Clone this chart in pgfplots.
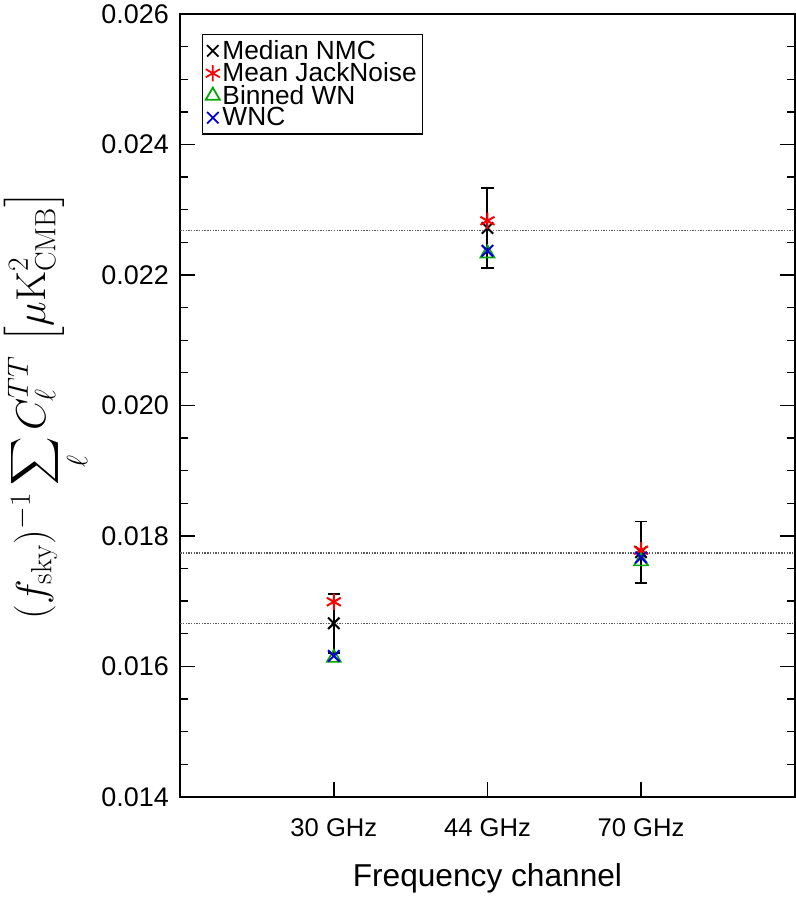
\RequirePackage{fix-cm}
\documentclass[border=0pt]{standalone}
\usepackage{amsmath}
\usepackage[no-math]{fontspec}
\setmainfont{Liberation Sans}
\usepackage{pgfplots}
\pgfplotsset{compat=1.18}
\definecolor{colRed}{RGB}{255,0,0}
\definecolor{colGreen}{RGB}{0,170,0}
\definecolor{colBlue}{RGB}{0,0,220}
\begin{document}
\begin{tikzpicture}
\begin{axis}[
  scale only axis,
  width=456pt, height=581pt,
  xmin=0, xmax=4, ymin=0.014, ymax=0.026,
  xtick={1,2,3}, xticklabels={30 GHz,44 GHz,70 GHz},
  xtick pos=bottom, ytick pos=both,
  ytick={0.014,0.016,0.018,0.020,0.022,0.024,0.026},
  minor y tick num=3,
  tick align=inside,
  major tick length=11pt, minor tick length=5.5pt,
  every tick/.style={black, line width=1pt},
  axis line style={line width=1.3pt},
  scaled y ticks=false,
  yticklabel style={/pgf/number format/fixed, /pgf/number format/precision=3,
    /pgf/number format/fixed zerofill, /pgf/number format/assume math mode=true,
    font=\fontsize{20}{24}\selectfont, xshift=-5pt},
  xticklabel style={font=\fontsize{19}{23}\selectfont, yshift=-13pt},
  xlabel={Frequency channel},
  xlabel style={font=\fontsize{23.5}{28}\selectfont, yshift=-13pt},
  ylabel={$(f_{\mathrm{sky}})^{-1}\displaystyle\sum_\ell C_\ell^{TT}\,\left[\mu\mathrm{K}^2_{\mathrm{CMB}}\right]$},
  ylabel style={font=\fontsize{31}{37}\selectfont, yshift=1pt},
  legend style={at={(0.035,0.975)}, anchor=north west, draw=black, line width=1pt,
    font=\fontsize{19.5}{19.5}\selectfont, inner sep=2.5pt, row sep=-3pt,
    cells={anchor=west}},
  legend cell align=left,
  legend image post style={line width=1.3pt},
]
% reference levels (median NMC)
\addplot[gray!70!black, densely dotted, line width=1pt, forget plot] coordinates {(0,0.02268) (4,0.02268)};
\addplot[gray!70!black, densely dotted, line width=1pt, forget plot] coordinates {(0,0.01774) (4,0.01774)};
\addplot[gray!70!black, densely dotted, line width=1pt, forget plot] coordinates {(0,0.01666) (4,0.01666)};

% Median NMC with error bars
\addplot[only marks, black, mark=x, mark size=6pt, line width=1.5pt,
  error bars/.cd, y dir=both, y explicit,
  error bar style={line width=1.4pt, black},
  error mark options={rotate=90, mark size=4.5pt, line width=1.4pt}]
  coordinates {
    (1,0.01666) +- (0,0.00045)
    (2,0.02272) +- (0,0.00061)
    (3,0.01775) +- (0,0.00047)
  };
\addlegendentry{Median NMC}

% Mean JackNoise
\addplot[only marks, colRed, mark=asterisk, mark size=6pt, line width=1.5pt]
  coordinates {(1,0.01699) (2,0.02283) (3,0.01778)};
\addlegendentry{Mean JackNoise}

% Binned WN
\addplot[only marks, colGreen, mark=triangle, mark size=6pt, line width=1.2pt]
  coordinates {(1,0.01613) (2,0.02233) (3,0.01761)};
\addlegendentry{Binned WN}

% WNC
\addplot[only marks, colBlue, mark=x, mark size=6pt, line width=1.5pt]
  coordinates {(1,0.01616) (2,0.02237) (3,0.01767)};
\addlegendentry{WNC}
\end{axis}
\end{tikzpicture}
\end{document}
